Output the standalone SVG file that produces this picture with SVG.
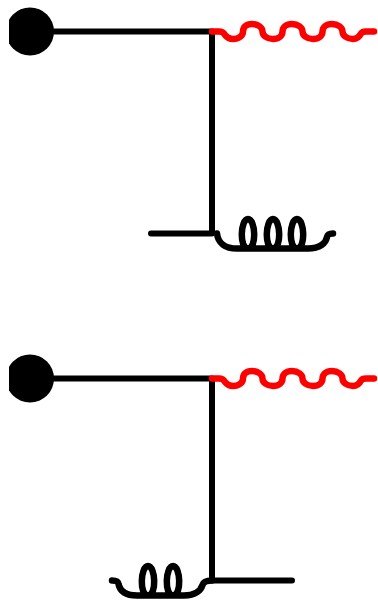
<svg xmlns="http://www.w3.org/2000/svg" width="378" height="600" viewBox="0 0 378 600">
<defs>
<clipPath id="c"><rect x="9" y="0" width="369" height="600"/></clipPath>
<path id="wave" d="M212 0H219C224 0 224.500 3 225 3.500C227 6 229 7.500 233 7.500C239 7.500 243 4 243 0C243 -4 246 -7.500 252 -7.500C258 -7.500 262.500 -4 262.500 0C262.500 4 267 7.500 273 7.500C279 7.500 282.500 4 282.500 0C282.500 -4 286 -7.500 292 -7.500C298 -7.500 302.500 -4 302.500 0C302.500 4 307 7.500 313 7.500C319 7.500 322.500 4 322.500 0C322.500 -4 326 -7.500 332 -7.500C338 -7.500 342.500 -4 342.500 0C342.500 4 347 7.500 353 7.500C358 7.500 360 4 361 2C362 0.500 364 0 366 0H374"/>
</defs>
<style>
.l{fill:none;stroke:#000;stroke-width:6;stroke-linecap:round;stroke-linejoin:round}
.k{fill:none;stroke:#000;stroke-width:6.500;stroke-linecap:round;stroke-linejoin:round}
.w{fill:none;stroke:#f00;stroke-width:6.500;stroke-linecap:round;stroke-linejoin:round}
.d{fill:#000}
</style>
<g id="connectors">
<path class="l" d="M30 31.500H212V233.500M151 233.500H212"/>
<path class="l" d="M30 378.500H212V580.500H292"/>
</g>
<g id="node-top-dot"><circle class="d" cx="30" cy="31.500" r="24" clip-path="url(#c)"/></g>
<g id="node-top-wave"><use class="w" href="#wave" y="31.500"/></g>
<g id="node-top-coil"><path class="k" d="M217 233.500C218 243 225 248.500 237 248.500H248C257 248.500 255.500 219 248 219C240.500 219 239 248.500 248 248.500H273C282 248.500 280.500 219 273 219C265.500 219 264 248.500 273 248.500H297C306 248.500 304.500 219 297 219C289.500 219 288 248.500 297 248.500H308C320 248.500 326 243 327 237C327.500 234.500 329 233.500 333 233.500"/></g>
<g id="node-bottom-dot"><circle class="d" cx="30" cy="378.500" r="24" clip-path="url(#c)"/></g>
<g id="node-bottom-wave"><use class="w" href="#wave" y="378.500"/></g>
<g id="node-bottom-coil"><path class="k" d="M112 580.500C116 580.500 118 581 118.500 584C120 591 126 595.500 137 595.500H148C157 595.500 155.500 566 148 566C140.500 566 139 595.500 148 595.500H173C182 595.500 180.500 566 173 566C165.500 566 164 595.500 173 595.500H184C196 595.500 201 590 202.500 585C203.500 581.500 207 580.500 212 580.500"/></g>
</svg>
